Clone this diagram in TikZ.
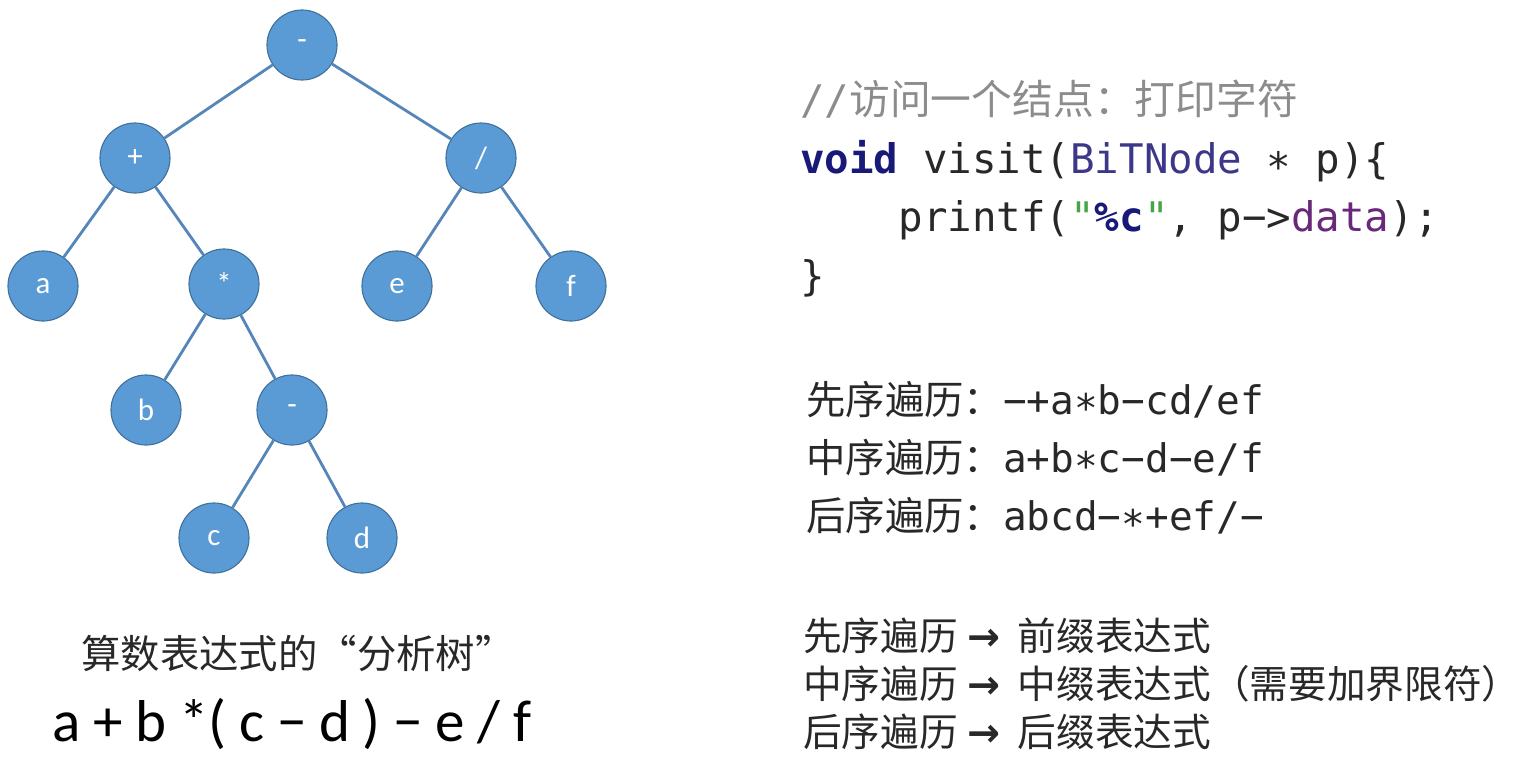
\documentclass[tikz,border=0pt]{standalone}
\usepackage{fontspec}
\usepackage{xcolor}
\usepackage{tikz}
\usetikzlibrary{positioning}
\setmainfont{Carlito}
\setmonofont{DejaVu Sans Mono}
\newfontfamily\cjk{Noto Sans CJK SC}
\newfontfamily\arrowfont{DejaVu Sans}
\definecolor{nodeblue}{RGB}{91, 155, 213}
\definecolor{nodeborder}{RGB}{65, 113, 156}
\definecolor{edgeblue}{RGB}{84, 134, 186}
\definecolor{kwnavy}{RGB}{25, 25, 120}
\definecolor{typeslate}{RGB}{60, 55, 135}
\definecolor{strgreen}{RGB}{70, 165, 70}
\definecolor{fieldpurple}{RGB}{105, 40, 120}
\definecolor{commentgray}{RGB}{140, 140, 140}
\definecolor{textgray}{RGB}{40, 40, 40}
\tikzset{
  treenode/.style={circle, fill=nodeblue, draw=nodeborder, line width=0.8pt,
    minimum size=1.75cm, inner sep=0pt, text=white, font=\fontsize{22}{22}\selectfont},
  treeedge/.style={edgeblue, line width=2pt},
  codeline/.style={anchor=base west, inner sep=0pt, text=textgray,
    font=\fontsize{29}{29}\ttfamily},
  travline/.style={anchor=base west, inner sep=0pt, text=textgray,
    font=\fontsize{28}{28}\ttfamily},
  noteline/.style={anchor=base west, inner sep=0pt, text=textgray,
    font=\fontsize{27.5}{27.5}\cjk}
}
\newcommand{\maparrow}{\hspace{7pt}{\arrowfont\bfseries\fontsize{28}{28}\selectfont →}\hspace{12pt}}
\newcommand{\opgap}{\hspace{9pt}}

\begin{document}
\begin{tikzpicture}[x=0.025cm, y=-0.025cm]
    \useasboundingbox (0,0) rectangle (1520,757);

    % Tree nodes
    \node[treenode] (root)  at (302,45)  {-};
    \node[treenode] (plus)  at (135,158) {+};
    \node[treenode] (div)   at (481,158) {/};
    \node[treenode] (a)     at (43,286)  {a};
    \node[treenode] (times) at (224,284) {*};
    \node[treenode] (e)     at (397,286) {e};
    \node[treenode] (f)     at (571,286) {f};
    \node[treenode] (b)     at (146,410) {b};
    \node[treenode] (minus) at (292,410) {-};
    \node[treenode] (c)     at (214,538) {c};
    \node[treenode] (d)     at (362,538) {d};

    % Edges
    \draw[treeedge] (root) -- (plus);
    \draw[treeedge] (root) -- (div);
    \draw[treeedge] (plus) -- (a);
    \draw[treeedge] (plus) -- (times);
    \draw[treeedge] (div) -- (e);
    \draw[treeedge] (div) -- (f);
    \draw[treeedge] (times) -- (b);
    \draw[treeedge] (times) -- (minus);
    \draw[treeedge] (minus) -- (c);
    \draw[treeedge] (minus) -- (d);

    % Captions under the tree
    \node[anchor=base, inner sep=0pt, text=textgray, font=\fontsize{28}{28}\cjk] (caption) at (298,668)
        {算数表达式的“分析树”};
    \node[anchor=base, inner sep=0pt, text=black, font=\fontsize{42}{42}\selectfont] (expr) at (292,741)
        {a\opgap+\opgap b\opgap*(\opgap c\opgap\textminus\opgap d\opgap)\opgap\textminus\opgap e\opgap/\opgap f};

    % Code
    \node[codeline, text=commentgray] (comment) at (800,114) {//{\cjk 访问一个结点：打印字符}};
    \node[codeline] (sig) at (800,173)
        {\textbf{\color{kwnavy}void} visit({\color{typeslate}BiTNode} ∗ p)\{};
    \node[codeline] (body) at (800,231)
        {\ \ \ \ printf({\color{strgreen}"}\textbf{\color{kwnavy}\%c}{\color{strgreen}"}, p−>{\color{fieldpurple}data});};
    \node[codeline] (close) at (800,290) {\}};

    % Traversals
    \node[travline] (pre)  at (806,414) {{\cjk 先序遍历：}−+a∗b−cd/ef};
    \node[travline] (in)   at (806,472) {{\cjk 中序遍历：}a+b∗c−d−e/f};
    \node[travline] (post) at (806,530) {{\cjk 后序遍历：}abcd−∗+ef/−};

    % Expression forms
    \node[noteline] (prenote)  at (803,650) {先序遍历\maparrow 前缀表达式};
    \node[noteline] (innote)   at (803,698) {中序遍历\maparrow 中缀表达式（需要加界限符）};
    \node[noteline] (postnote) at (803,746) {后序遍历\maparrow 后缀表达式};
\end{tikzpicture}
\end{document}
